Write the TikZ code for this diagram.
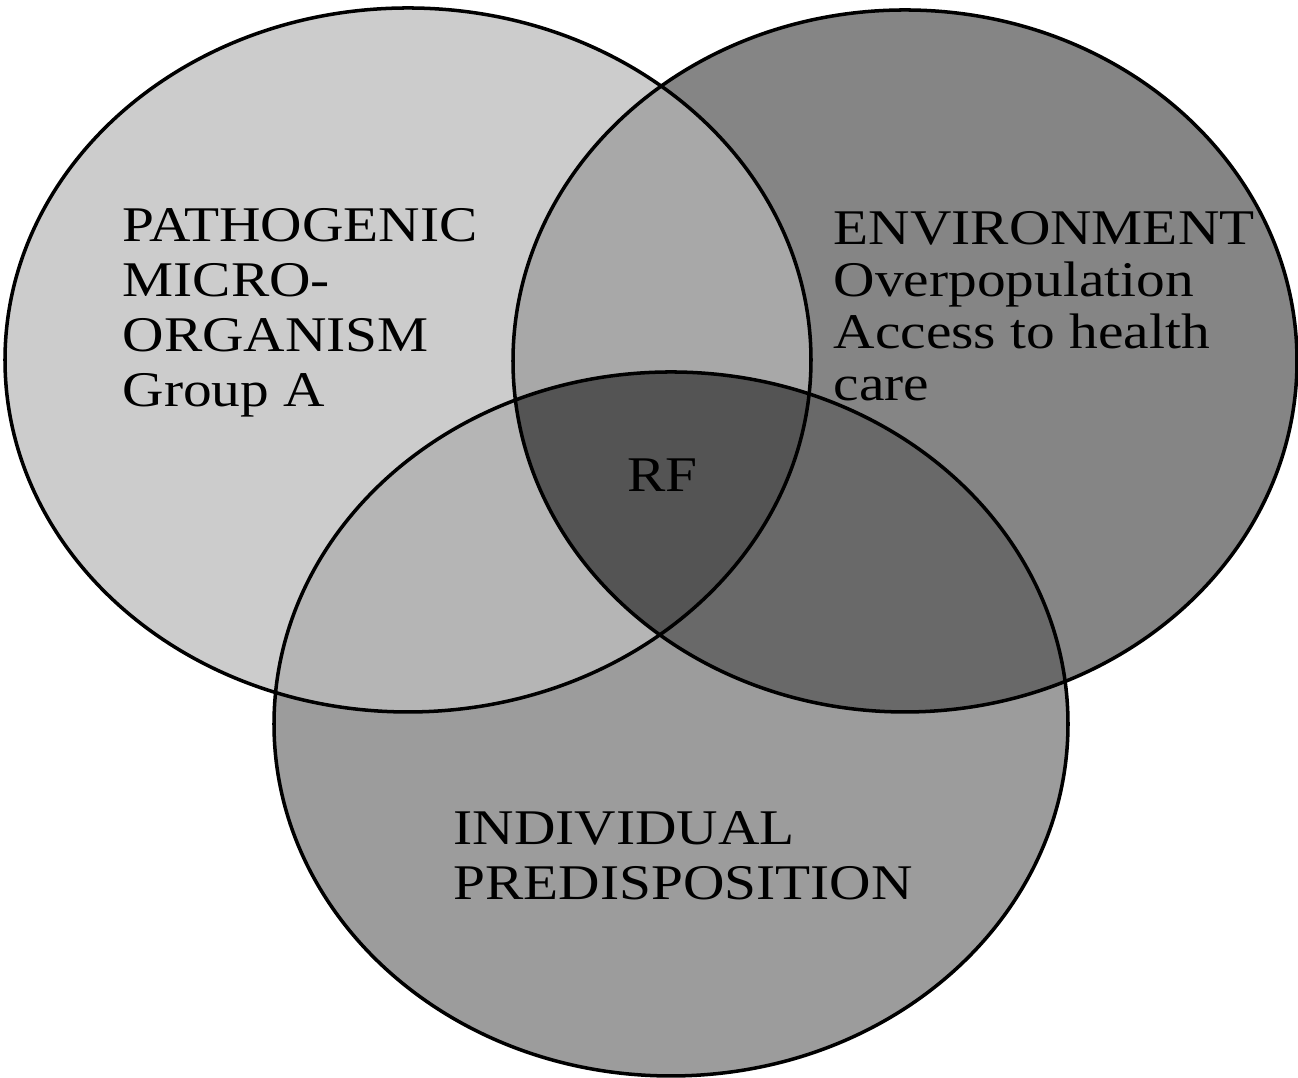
\documentclass[tikz,border=0pt]{standalone}
\usepackage{fontspec}
\newfontfamily\lab[FakeStretch=1.15]{Liberation Serif}
\definecolor{cL}{gray}{0.80}
\definecolor{cR}{gray}{0.52}
\definecolor{cB}{gray}{0.61}
\definecolor{cLR}{gray}{0.66}
\definecolor{cLB}{gray}{0.71}
\definecolor{cRB}{gray}{0.41}
\definecolor{cLRB}{gray}{0.33}
\begin{document}
\begin{tikzpicture}[
  venn/.style={draw=black, line width=1pt},
  lbl/.style={inner sep=0pt, anchor=base west, align=left, font=\lab\fontsize{14.2}{15.65}\selectfont}
]
\useasboundingbox (0,0) rectangle (12.98,10.78);
\def\Lpath{(4.08,7.18) ellipse [x radius=4.03, y radius=3.52]}
\def\Rpath{(9.05,7.17) ellipse [x radius=3.92, y radius=3.51]}
\def\Bpath{(6.71,3.54) ellipse [x radius=3.97, y radius=3.52]}
% base fills
\fill[cL] \Lpath;
\fill[cR] \Rpath;
\fill[cB] \Bpath;
\begin{scope}\clip \Lpath; \fill[cLR] \Rpath; \end{scope}
\begin{scope}\clip \Lpath; \fill[cLB] \Bpath; \end{scope}
\begin{scope}\clip \Rpath; \fill[cRB] \Bpath; \end{scope}
\begin{scope}\clip \Lpath; \clip \Rpath; \fill[cLRB] \Bpath; \end{scope}
% outlines
\draw[venn] \Lpath;
\draw[venn] \Rpath;
\draw[venn] \Bpath;
% labels (anchor = baseline of last line)
\node[lbl] (path) at (1.22,6.71) {PATHOGENIC\\MICRO-\\ORGANISM\\Group A};
\node[lbl, font=\lab\fontsize{14.2}{14.8}\selectfont] (env) at (8.33,6.77) {ENVIRONMENT\\Overpopulation\\Access to health\\care};
\node[lbl] (ind) at (4.53,1.78) {INDIVIDUAL\\PREDISPOSITION};
\node[lbl] (rf) at (6.27,5.86) {RF};
\end{tikzpicture}
\end{document}
